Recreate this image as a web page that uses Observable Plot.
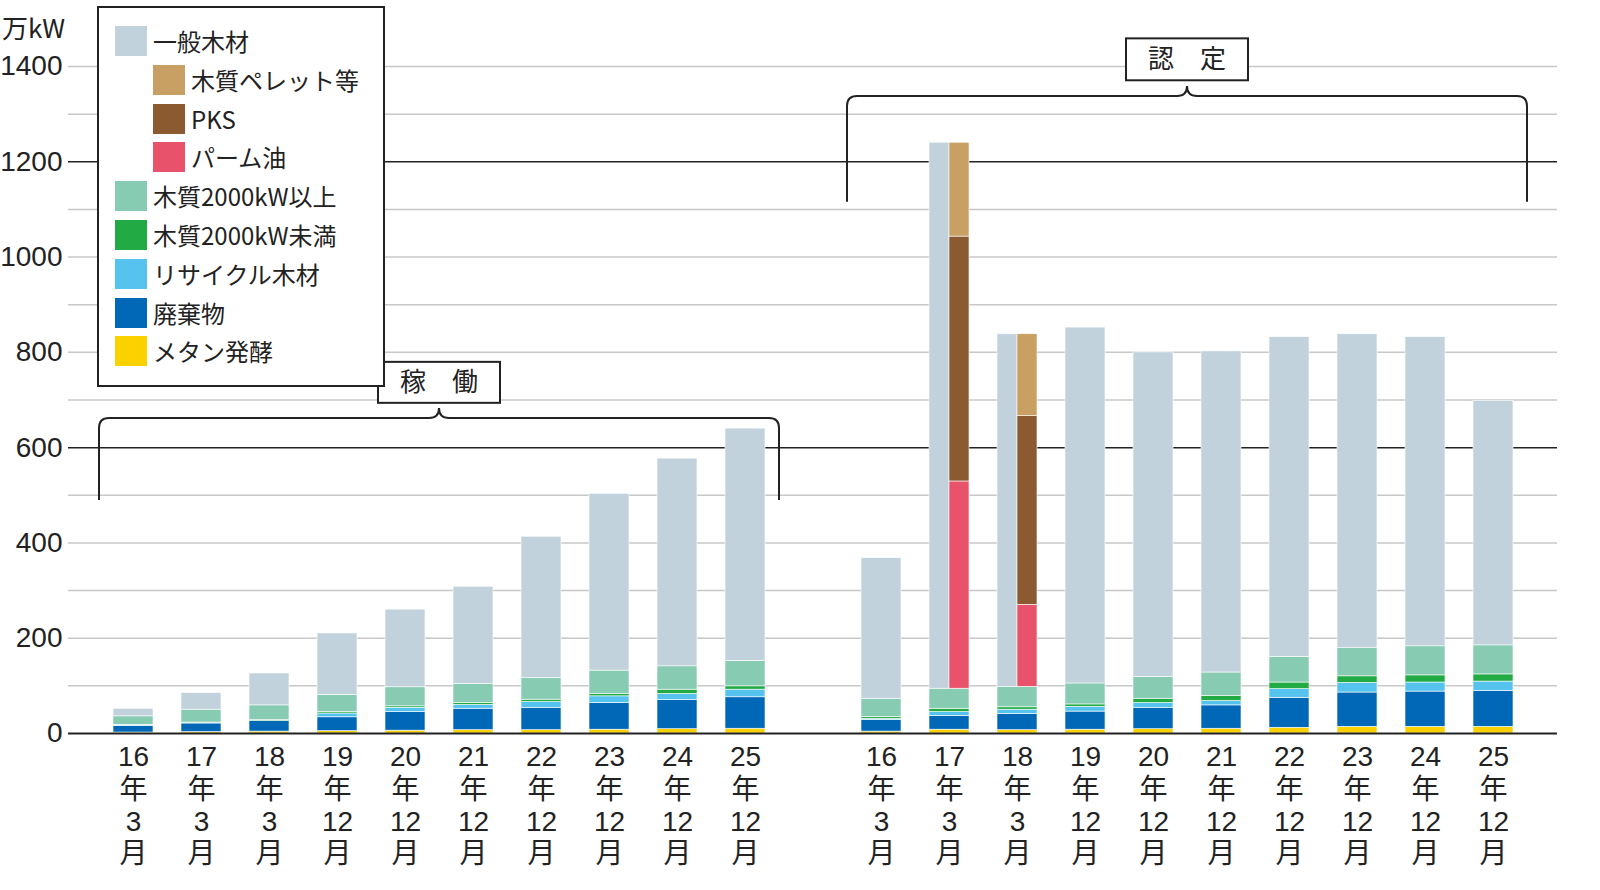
<!DOCTYPE html>
<html><head><meta charset="utf-8">
<script src="https://cdn.jsdelivr.net/npm/d3@7"></script>
<script src="https://cdn.jsdelivr.net/npm/@observablehq/plot@0.6"></script>
<style>
html,body{margin:0;background:#fff;overflow:hidden;font-family:"Liberation Sans","Noto Sans CJK JP",sans-serif;}
#wrap{position:relative;width:1600px;height:890px;}
#legend{position:absolute;left:97px;top:6px;width:288px;height:381px;border:2px solid #222;background:#fff;box-sizing:border-box;}
.li{position:absolute;font-size:24px;line-height:30px;color:#222;font-family:"Noto Sans CJK JP",sans-serif;}
.sw{position:absolute;width:32px;height:30px;}
#unit{position:absolute;left:2px;top:8px;font-size:26px;font-family:"Noto Sans CJK JP",sans-serif;color:#222;}
</style></head><body>
<div id="wrap"><div id="unit">万kW</div><div id="legend"></div></div>
<script>
const keys = ["k0","k1","k2","k3","k4","k5","k6","k7","k8","k9","gap","n0","n1","n2","n3","n4","n5","n6","n7","n8","n9"];
const tickLabels = ["16\n年\n3\n月","17\n年\n3\n月","18\n年\n3\n月","19\n年\n12\n月","20\n年\n12\n月","21\n年\n12\n月","22\n年\n12\n月","23\n年\n12\n月","24\n年\n12\n月","25\n年\n12\n月"];
const seriesNames = ["メタン発酵","廃棄物","リサイクル木材","木質2000kW未満","木質2000kW以上","一般木材"];
const colors = {"一般木材":"#c2d2dc","木質ペレット等":"#c9a063","PKS":"#8b5a30","パーム油":"#e8536b","木質2000kW以上":"#86cbb2","木質2000kW未満":"#22aa44","リサイクル木材":"#56c3ef","廃棄物":"#0068b7","メタン発酵":"#fcd100"};
// 稼働
const kMetan=[2,3,4,5,6,7,7,8,9,10];
const kWaste=[14,18,22,29,39,45,47,56,61,66];
const kRecycle=[1,1,0,8,9,8,12,14,13,16];
const kSmall=[1,1,2,3,3,4,5,5,9,7];
const kLarge=[18,27,31,36,40,40,45,49,49,53];
const kGeneral=[16,35,67,129,163,204,297,371,436,488];
// 認定
const nMetan=[4,8,7,8,9,10,12,14,14,14];
const nWaste=[24,29,34,38,45,49,63,72,74,75];
const nRecycle=[3,8,9,10,10,9,18,20,19,20];
const nSmall=[4,7,5,5,9,11,14,14,15,15];
const nLarge=[38,42,43,44,46,49,54,59,61,61];
const nGeneral=[295,1146,740,747,681,674,671,659,649,513];
const nPalm=[0,435,172,0,0,0,0,0,0,0];
const nPKS=[0,514,396,0,0,0,0,0,0,0];
const nPellet=[0,197,172,0,0,0,0,0,0,0];

const full=[], left=[], right=[];
function build(prefix, arrs, gen, palm, pks, pel){
  for(let i=0;i<10;i++){
    const x=prefix+i; let c=0;
    arrs.forEach((a,j)=>{full.push({x,s:seriesNames[j],y1:c,y2:c+a[i]}); c+=a[i];});
    const split = palm && palm[i]>0;
    (split?left:full).push({x,s:"一般木材",y1:c,y2:c+gen[i]});
    if(split){let r=c;[["パーム油",palm],["PKS",pks],["木質ペレット等",pel]].forEach(([s,a])=>{right.push({x,s,y1:r,y2:r+a[i]});r+=a[i];});}
  }
}
build("k",[kMetan,kWaste,kRecycle,kSmall,kLarge],kGeneral);
build("n",[nMetan,nWaste,nRecycle,nSmall,nLarge],nGeneral,nPalm,nPKS,nPellet);

function brace(x1key,x2key,topV,endV,label,boxTopV,boxBotV){
  return (index,scales)=>{
    const bw=scales.x.bandwidth(), step=scales.x.step();
    const x1=scales.x(x1key)+bw/2-step/2, x2=scales.x(x2key)+bw/2+step/2;
    const yt=scales.y(topV), ye=scales.y(endV), m=(x1+x2)/2, r=10;
    const ns="http://www.w3.org/2000/svg";
    const g=document.createElementNS(ns,"g");
    const p=document.createElementNS(ns,"path");
    p.setAttribute("d",`M${x1},${ye}V${yt+r}Q${x1},${yt} ${x1+r},${yt}H${m-r}Q${m},${yt} ${m},${yt-r}Q${m},${yt} ${m+r},${yt}H${x2-r}Q${x2},${yt} ${x2},${yt+r}V${ye}`);
    p.setAttribute("fill","none");p.setAttribute("stroke","#222");p.setAttribute("stroke-width","2");
    g.appendChild(p);
    const bt=scales.y(boxTopV), bb=scales.y(boxBotV);
    const rect=document.createElementNS(ns,"rect");
    rect.setAttribute("x",m-61);rect.setAttribute("y",bt);rect.setAttribute("width",122);rect.setAttribute("height",bb-bt);
    rect.setAttribute("fill","#fff");rect.setAttribute("stroke","#222");rect.setAttribute("stroke-width","2");
    g.appendChild(rect);
    const t=document.createElementNS(ns,"text");
    t.setAttribute("x",m);t.setAttribute("y",(bt+bb)/2);t.setAttribute("text-anchor","middle");t.setAttribute("dy","0.35em");
    t.setAttribute("font-size","26");t.setAttribute("font-family","Noto Sans CJK JP");t.setAttribute("fill","#222");
    t.textContent=label; g.appendChild(t);
    return g;
  };
}
const tickMap=Object.fromEntries(keys.map((k,i)=>[k, k==="gap"?"":tickLabels[+k.slice(1)]]));
const light=d3.range(100,1500,100).filter(v=>v!==600&&v!==1200);
const chart=Plot.plot({
  width:1600,height:890,marginLeft:97,marginRight:70,marginTop:66,marginBottom:157,
  style:{fontFamily:"Liberation Sans, Noto Sans CJK JP",fontSize:"28px",color:"#222",maxWidth:"none"},
  x:{domain:keys,paddingInner:0.41,paddingOuter:0.205,axis:null},
  y:{domain:[0,1400],axis:null},
  marks:[
    Plot.ruleY(light,{stroke:"#c8c8c8",strokeWidth:1.5,insetLeft:-29,insetRight:-27}),
    Plot.ruleY([600,1200],{stroke:"#222",strokeWidth:1.5,insetLeft:-29,insetRight:-27}),
    Plot.barY(full,{x:"x",y1:"y1",y2:"y2",fill:d=>colors[d.s],stroke:"#fff",strokeWidth:0.6}),
    Plot.barY(left,{x:"x",y1:"y1",y2:"y2",fill:d=>colors[d.s],stroke:"#fff",strokeWidth:0.6,insetRight:20}),
    Plot.barY(right,{x:"x",y1:"y1",y2:"y2",fill:d=>colors[d.s],stroke:"#fff",strokeWidth:0.6,insetLeft:20}),
    Plot.ruleY([0],{stroke:"#222",strokeWidth:2,insetLeft:-29,insetRight:-27}),
    Plot.axisY({ticks:d3.range(0,1401,200),tickSize:0,tickPadding:35,fontSize:28,tickFormat:d=>String(d),label:null}),
    Plot.axisX({tickSize:0,tickPadding:10,fontSize:28,lineHeight:1.15,tickFormat:k=>tickMap[k],label:null,fontFamily:"Liberation Sans, Noto Sans CJK JP"}),
    brace("k0","k9",661,489,"稼　働",779,693),
    brace("n0","n9",1337,1115,"認　定",1458,1370)
  ]
});
document.getElementById("wrap").appendChild(chart);
chart.style.position="absolute";chart.style.left="0";chart.style.top="0";chart.style.maxWidth="none";
document.getElementById("unit").style.zIndex=2;
document.getElementById("legend").style.zIndex=2;
const legendItems=[["一般木材",0],["木質ペレット等",1],["PKS",1],["パーム油",1],["木質2000kW以上",0],["木質2000kW未満",0],["リサイクル木材",0],["廃棄物",0],["メタン発酵",0]];
const lg=document.getElementById("legend");
legendItems.forEach(([n,ind],i)=>{
  const top=18+i*38.8;
  const sw=document.createElement("div");sw.className="sw";sw.style.left=(ind?54:16)+"px";sw.style.top=top+"px";sw.style.background=colors[n];lg.appendChild(sw);
  const t=document.createElement("div");t.className="li";t.style.left=(ind?92:54)+"px";t.style.top=(top)+"px";t.textContent=n;lg.appendChild(t);
});
</script></body></html>
